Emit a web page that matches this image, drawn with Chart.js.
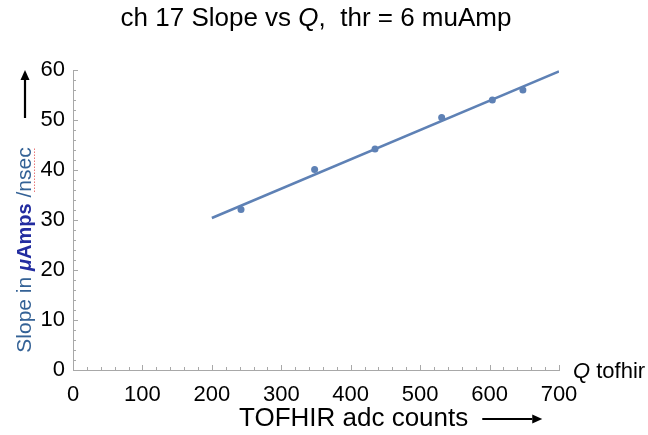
<!DOCTYPE html>
<html lang="en">
  <head>
    <meta charset="UTF-8" />
    <title>ch 17 Slope vs Q</title>
    <script src="https://cdn.jsdelivr.net/npm/chart.js"></script>
    <style>
      html, body { margin: 0; padding: 0; background: #fff; }
      #wrap { width: 648px; height: 435px; }
    </style>
  </head>
  <body>
    <div id="wrap"><canvas id="slopeChart" width="648" height="435"></canvas></div>
    <script>
      // measured points (Q tofhir adc counts vs slope in uAmps/nsec)
      const qValues = [242, 348, 435, 531, 604, 648];
      const slopeValues = [32.1, 40.1, 44.2, 50.5, 54.0, 56.0];
      const fitQ = [200, 700];
      const fitSlope = [30.4, 59.7];
      // axis ticks
      const xRange = [0, 700];
      const xMajorStep = 100;
      const xMinorStep = 20;
      const yRange = [0, 60];
      const yMajorStep = 10;
      const yMinorStep = 2;

      const FONT = "'Liberation Sans', Arial, Helvetica, sans-serif";
      const lineColor = "rgb(94,129,181)";
      const axisColor = "#a8a8a8";

      function drawRuns(ctx, runs, x, y) {
        // runs: [{text, font, color}], drawn left to right from x
        let cx = x;
        runs.forEach(r => {
          ctx.font = r.font;
          ctx.fillStyle = r.color || "#000";
          ctx.fillText(r.text, cx, y);
          r.start = cx;
          cx += ctx.measureText(r.text).width;
          r.end = cx;
        });
        return cx;
      }

      function runsWidth(ctx, runs) {
        let w = 0;
        runs.forEach(r => { ctx.font = r.font; w += ctx.measureText(r.text).width; });
        return w;
      }

      function arrow(ctx, x1, y1, x2, y2) {
        const ang = Math.atan2(y2 - y1, x2 - x1);
        const hl = 10, hw = 4.5;
        ctx.save();
        ctx.strokeStyle = "#000";
        ctx.fillStyle = "#000";
        ctx.lineWidth = 2.2;
        ctx.beginPath();
        ctx.moveTo(x1, y1);
        ctx.lineTo(x2 - hl * Math.cos(ang), y2 - hl * Math.sin(ang));
        ctx.stroke();
        ctx.beginPath();
        ctx.moveTo(x2, y2);
        ctx.lineTo(x2 - hl * Math.cos(ang) + hw * Math.sin(ang), y2 - hl * Math.sin(ang) - hw * Math.cos(ang));
        ctx.lineTo(x2 - hl * Math.cos(ang) - hw * Math.sin(ang), y2 - hl * Math.sin(ang) + hw * Math.cos(ang));
        ctx.closePath();
        ctx.fill();
        ctx.restore();
      }

      const decorations = {
        id: "decorations",
        afterDraw(chart) {
          const ctx = chart.ctx;
          const area = chart.chartArea;
          const xs = chart.scales.x, ys = chart.scales.y;

          // inward tick marks, Mathematica style
          ctx.save();
          ctx.strokeStyle = axisColor;
          ctx.lineWidth = 1;
          xs.ticks.forEach(t => {
            const px = Math.round(xs.getPixelForValue(t.value)) + 0.5;
            const len = t.value % xMajorStep === 0 ? 5 : 3;
            ctx.beginPath();
            ctx.moveTo(px, area.bottom);
            ctx.lineTo(px, area.bottom - len);
            ctx.stroke();
          });
          ys.ticks.forEach(t => {
            const py = Math.round(ys.getPixelForValue(t.value)) + 0.5;
            const len = t.value % yMajorStep === 0 ? 5 : 3;
            ctx.beginPath();
            ctx.moveTo(area.left, py);
            ctx.lineTo(area.left + len, py);
            ctx.stroke();
          });
          ctx.restore();

          ctx.save();
          ctx.textBaseline = "alphabetic";

          // title
          const titleRuns = [
            { text: "ch 17 Slope vs ", font: "26px " + FONT },
            { text: "Q", font: "italic 26px " + FONT },
            { text: ",  thr = 6 muAmp", font: "26px " + FONT }
          ];
          const tw = runsWidth(ctx, titleRuns);
          drawRuns(ctx, titleRuns, (area.left + area.right) / 2 - tw / 2, 26);

          // x axis end label
          drawRuns(ctx, [
            { text: "Q", font: "italic 22px " + FONT },
            { text: " tofhir", font: "22px " + FONT }
          ], area.right + 14, area.bottom + 8);

          // x axis title with arrow
          const xEnd = drawRuns(ctx, [
            { text: "TOFHIR adc counts", font: "26px " + FONT }
          ], 239, 426);
          arrow(ctx, xEnd + 14, 419, xEnd + 74, 419);

          // y axis title, rotated, mixed colours
          ctx.save();
          ctx.translate(25, 250);
          ctx.rotate(-Math.PI / 2);
          const yRuns = [
            { text: "Slope in ", font: "21px " + FONT, color: "rgb(52,98,150)" },
            { text: "\u03bc", font: "italic bold 20px " + FONT, color: "rgb(35,45,160)" },
            { text: "Amps", font: "bold 20px " + FONT, color: "rgb(35,45,160)" },
            { text: " /nsec", font: "21px " + FONT, color: "rgb(52,98,150)" }
          ];
          const yw = runsWidth(ctx, yRuns);
          ctx.textBaseline = "middle";
          drawRuns(ctx, yRuns, -yw / 2, 0);
          // red dotted spell-check underline under "nsec"
          const last = yRuns[3];
          ctx.font = last.font;
          const nsStart = last.start + ctx.measureText(" /").width;
          ctx.strokeStyle = "#d33";
          ctx.lineWidth = 1;
          ctx.setLineDash([1, 2]);
          ctx.beginPath();
          ctx.moveTo(nsStart, 9.5);
          ctx.lineTo(last.end, 9.5);
          ctx.stroke();
          ctx.restore();

          arrow(ctx, 25, 118, 25, 70);
          ctx.restore();
        }
      };

      const ctx = document.getElementById("slopeChart").getContext("2d");
      new Chart(ctx, {
        type: "scatter",
        data: {
          datasets: [
            {
              label: "fit",
              data: fitQ.map((q, i) => ({ x: q, y: fitSlope[i] })),
              showLine: true,
              borderColor: lineColor,
              borderWidth: 2.5,
              pointRadius: 0,
              order: 2
            },
            {
              label: "data",
              data: qValues.map((q, i) => ({ x: q, y: slopeValues[i] })),
              backgroundColor: lineColor,
              borderColor: lineColor,
              pointRadius: 3.5,
              borderWidth: 0,
              order: 1
            }
          ]
        },
        options: {
          responsive: false,
          animation: false,
          layout: { padding: { top: 70, right: 89, left: 0, bottom: 0 } },
          plugins: {
            legend: { display: false },
            tooltip: { enabled: false },
            title: { display: false }
          },
          scales: {
            x: {
              type: "linear",
              min: xRange[0],
              max: xRange[1],
              afterFit: s => { s.height = 65; },
              grid: { display: false, drawTicks: false },
              border: { display: true, color: axisColor, width: 1 },
              ticks: {
                stepSize: xMinorStep,
                autoSkip: false,
                maxRotation: 0,
                padding: 12,
                color: "#000",
                font: { family: FONT, size: 22 },
                callback: v => (v % xMajorStep === 0 ? String(v) : "")
              }
            },
            y: {
              type: "linear",
              min: yRange[0],
              max: yRange[1],
              afterFit: s => { s.width = 73; },
              grid: { display: false, drawTicks: false },
              border: { display: true, color: axisColor, width: 1 },
              ticks: {
                stepSize: yMinorStep,
                autoSkip: false,
                padding: 8,
                color: "#000",
                font: { family: FONT, size: 22 },
                callback: v => (v % yMajorStep === 0 ? String(v) : "")
              }
            }
          }
        },
        plugins: [decorations]
      });
    </script>
  </body>
</html>
